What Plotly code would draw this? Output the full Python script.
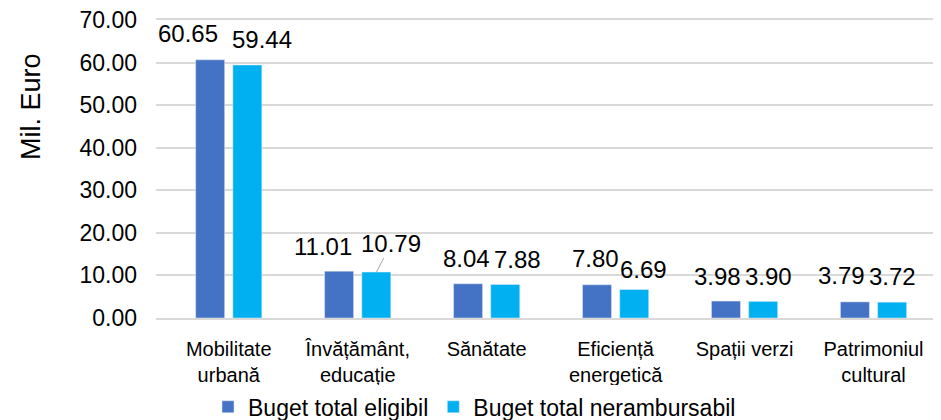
import plotly.graph_objects as go

categories = [
    "Mobilitate<br>urbană",
    "Învățământ,<br>educație",
    "Sănătate",
    "Eficiență<br>energetică",
    "Spații verzi",
    "Patrimoniul<br>cultural",
]
eligibil = [60.65, 11.01, 8.04, 7.80, 3.98, 3.79]
nerambursabil = [59.44, 10.79, 7.88, 6.69, 3.90, 3.72]
series_names = ["Buget total eligibil", "Buget total nerambursabil"]
y_ticks = [0, 10, 20, 30, 40, 50, 60, 70]

# label nudges (px) so the value labels don't collide, like in the Excel original
dx_elig = [-22, -16, -1, -1, -8, -13]
dx_ner = [14, 15, 12, 9, 5, 0]
dy_elig = [26, 25, 25, 26, 25, 26]
dy_ner = [25, 29, 25, 20, 25, 26]

FONT = "Liberation Sans, Arial, sans-serif"
DARK = "#4472C4"
LIGHT = "#00B0F0"
GRID = "#D9D9D9"

fig = go.Figure()
fig.add_trace(go.Bar(x=categories, y=eligibil, name=series_names[0], marker_color=DARK))
fig.add_trace(go.Bar(x=categories, y=nerambursabil, name=series_names[1], marker_color=LIGHT))

# half the distance between the two bar centres in a group
half = 18.75

annotations = []
for i, cat in enumerate(categories):
    annotations.append(dict(
        x=cat, y=eligibil[i], xref="x", yref="y",
        text=f"{eligibil[i]:.2f}", showarrow=False,
        xshift=-half + dx_elig[i], yshift=dy_elig[i],
        yanchor="middle", font=dict(size=24, color="#000"),
    ))
    if i == 1:
        # leader line for 10.79
        annotations.append(dict(
            x=cat, y=nerambursabil[i], xref="x", yref="y",
            text=f"{nerambursabil[i]:.2f}", showarrow=True,
            arrowhead=0, arrowwidth=1, arrowcolor="#A6A6A6",
            ax=dx_ner[i], ay=-dy_ner[i], xshift=half,
            font=dict(size=24, color="#000"),
        ))
    else:
        annotations.append(dict(
            x=cat, y=nerambursabil[i], xref="x", yref="y",
            text=f"{nerambursabil[i]:.2f}", showarrow=False,
            xshift=half + dx_ner[i], yshift=dy_ner[i],
            yanchor="middle", font=dict(size=24, color="#000"),
        ))

annotations.append(dict(
    text="Mil. Euro", textangle=-90, showarrow=False,
    xref="paper", yref="paper", x=0, y=0.708, xshift=-125,
    xanchor="center", yanchor="middle",
    font=dict(size=27, color="#000"),
))

# page body has an 8px margin, so the figure is a bit smaller than the window
fig.update_layout(
    width=933,
    height=412,
    margin=dict(l=148, r=3, t=12, b=102, autoexpand=False),
    plot_bgcolor="white",
    paper_bgcolor="white",
    font=dict(family=FONT, color="#000"),
    barmode="group",
    bargap=0.423,
    bargroupgap=0.22,
    showlegend=True,
    legend=dict(
        orientation="h",
        xref="container", x=0.5, xanchor="center",
        yref="container", y=0.032, yanchor="middle",
        font=dict(size=23, color="#000"),
        itemwidth=30,
    ),
    annotations=annotations,
)

# x axis line + mirror gives the 0 and 70 gridlines at the plot edges
fig.update_xaxes(
    type="category",
    showgrid=False,
    showline=True,
    mirror=True,
    linecolor=GRID,
    linewidth=1.5,
    tickfont=dict(size=20, color="#000"),
    ticks="",
    ticklabelstandoff=12,
)
fig.update_yaxes(
    range=[0, 70],
    tickvals=y_ticks,
    tickformat=".2f",
    showgrid=True,
    gridcolor=GRID,
    gridwidth=1.5,
    zeroline=False,
    showline=False,
    tickfont=dict(size=23, color="#000"),
    ticklabelstandoff=18,
    ticklabeloverflow="allow",
)

fig.write_html("out.html")
